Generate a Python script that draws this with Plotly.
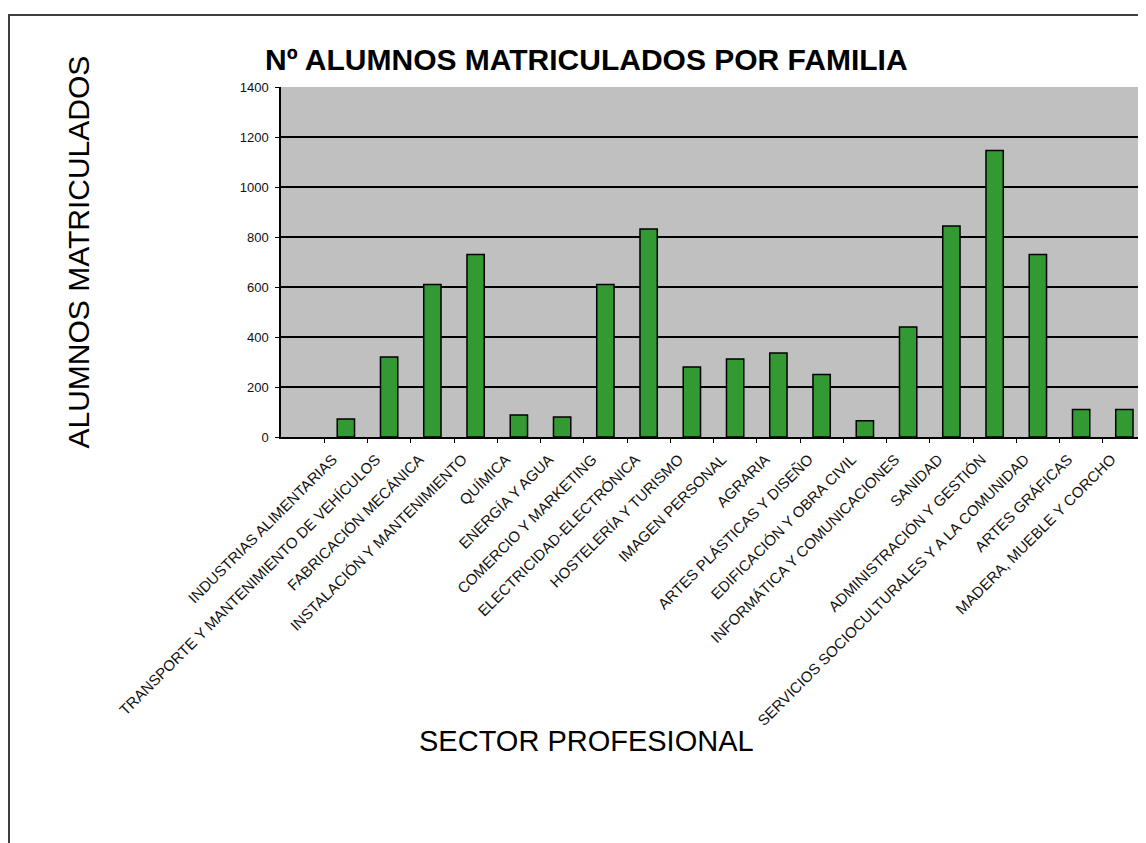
import plotly.graph_objects as go

categories = [
    "INDUSTRIAS ALIMENTARIAS",
    "TRANSPORTE Y MANTENIMIENTO DE VEHÍCULOS",
    "FABRICACIÓN MECÁNICA",
    "INSTALACIÓN Y MANTENIMIENTO",
    "QUÍMICA",
    "ENERGÍA Y AGUA",
    "COMERCIO Y MARKETING",
    "ELECTRICIDAD-ELECTRÓNICA",
    "HOSTELERÍA Y TURISMO",
    "IMAGEN PERSONAL",
    "AGRARIA",
    "ARTES PLÁSTICAS Y DISEÑO",
    "EDIFICACIÓN Y OBRA CIVIL",
    "INFORMÁTICA Y COMUNICACIONES",
    "SANIDAD",
    "ADMINISTRACIÓN Y GESTIÓN",
    "SERVICIOS SOCIOCULTURALES Y A LA COMUNIDAD",
    "ARTES GRÁFICAS",
    "MADERA, MUEBLE Y CORCHO",
]
alumnos = [72, 320, 610, 730, 88, 80, 610, 832, 280, 312, 336, 250, 65, 440, 844, 1146, 730, 110, 110]

y_ticks = [0, 200, 400, 600, 800, 1000, 1200, 1400]

title_text = "Nº ALUMNOS MATRICULADOS POR FAMILIA"
y_title = "ALUMNOS MATRICULADOS"
x_title = "SECTOR PROFESIONAL"

# page body has an 8px margin; work in screen coords and convert
OFF = 8
W, H = 1146 - OFF, 843 - OFF
L, T, B, R = 281 - OFF, 87 - OFF, 437 - OFF, 1146 - OFF
pw, ph = R - L, B - T

def px(x):
    return (x - OFF - L) / pw

def py(y):
    return (B - (y - OFF)) / ph

FONT = "Liberation Sans, Arial, sans-serif"

fig = go.Figure(
    go.Bar(
        x=categories,
        y=alumnos,
        marker=dict(color="#339933", line=dict(color="black", width=1.5)),
        showlegend=False,
    )
)

fig.update_layout(
    width=W,
    height=H,
    margin=dict(l=L, r=W - R, t=T, b=H - B, pad=0),
    paper_bgcolor="white",
    plot_bgcolor="#C0C0C0",
    bargap=0.6,
    font=dict(family=FONT, color="black"),
)

fig.update_xaxes(
    type="category",
    range=[-1.5, len(categories) - 0.5],
    tickangle=-45,
    tickson="boundaries",
    ticks="outside",
    ticklen=4,
    tickcolor="black",
    tickwidth=1,
    showline=True,
    linecolor="black",
    linewidth=1.5,
    showgrid=False,
    ticklabelshift=-13,
    ticklabelstandoff=6,
    tickfont=dict(family=FONT, size=15, color="#111111"),
    fixedrange=True,
)

fig.update_yaxes(
    range=[0, 1400],
    tickvals=y_ticks,
    ticktext=[str(v) for v in y_ticks],
    ticks="outside",
    ticklen=4,
    tickcolor="black",
    showline=True,
    linecolor="black",
    linewidth=1.5,
    showgrid=True,
    gridcolor="black",
    gridwidth=1.5,
    zeroline=False,
    ticklabelstandoff=4,
    tickfont=dict(family=FONT, size=13, color="#111111"),
    fixedrange=True,
)

fig.add_annotation(
    text="<b>" + title_text + "</b>", xref="paper", yref="paper",
    x=px(586), y=py(60), xanchor="center", yanchor="middle",
    showarrow=False, font=dict(family=FONT, size=30, color="black"),
)
fig.add_annotation(
    text=y_title, xref="paper", yref="paper", textangle=-90,
    x=px(77.5), y=py(252), xanchor="center", yanchor="middle",
    showarrow=False, font=dict(family=FONT, size=30, color="black"),
)
fig.add_annotation(
    text=x_title, xref="paper", yref="paper",
    x=px(586), y=py(741), xanchor="center", yanchor="middle",
    showarrow=False, font=dict(family=FONT, size=29, color="black"),
)

fig.add_shape(
    type="rect", xref="paper", yref="paper",
    x0=px(9), y0=py(900), x1=px(1200), y1=py(15),
    line=dict(color="#404040", width=2), fillcolor="rgba(0,0,0,0)",
    layer="below",
)

fig.write_html("out.html")
